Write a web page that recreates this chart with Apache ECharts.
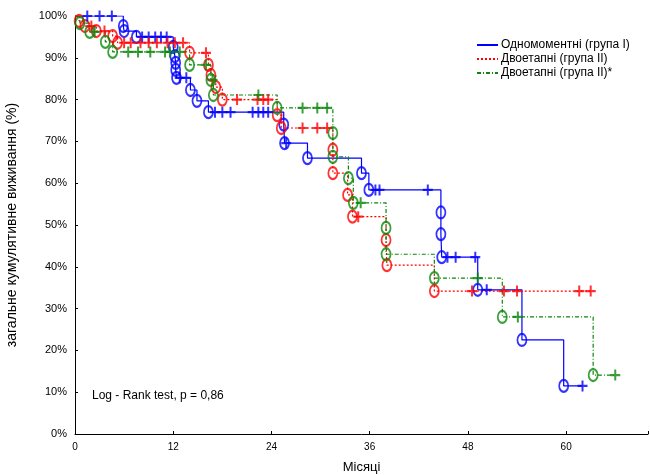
<!DOCTYPE html>
<html>
<head>
<meta charset="utf-8">
<script src="https://cdn.jsdelivr.net/npm/echarts@6/dist/echarts.min.js"></script>
<style>
    html, body { margin: 0; padding: 0; background: #fff; }
    #chart { width: 650px; height: 475px; }
</style>
</head>
<body>
<div id="chart"></div>
<script>
// month ticks and survival (%)
var monthTicks = [0, 12, 24, 36, 48, 60];

var names = ['Одномоментні (група І)', 'Двоетапні (група ІІ)', 'Двоетапні (група ІІ)*'];

// events (circles): [month, survival %]
var blueEvents = [[5.9, 97.6], [6.0, 96.4], [7.5, 95.0], [12.0, 92.6], [12.2, 90.4], [12.3, 88.8], [12.3, 87.1], [12.4, 85.2],
    [14.1, 82.3], [14.9, 79.7], [16.3, 77.0], [25.5, 74.0], [25.6, 69.6], [28.4, 66.0], [35.0, 62.4], [35.9, 58.4],
    [44.7, 53.0], [44.7, 47.8], [44.8, 42.3], [49.2, 34.5], [54.6, 22.5], [59.7, 11.5]];
// censored (plus signs)
var blueCensored = [[1.5, 100], [3.0, 100], [4.5, 100], [8.2, 95], [9.0, 95], [9.8, 95], [10.5, 95], [11.2, 95],
    [12.8, 85.2], [13.6, 85.2], [17.1, 77], [18.0, 77], [19.0, 77], [21.7, 77], [22.4, 77], [23.0, 77], [23.6, 77],
    [25.8, 69.6], [36.7, 58.4], [37.2, 58.4], [43.1, 58.4], [45.5, 42.3], [46.5, 42.3], [48.9, 42.3], [50.3, 34.5], [62.0, 11.5]];

var redEvents = [[0.5, 98.8], [1.2, 97.6], [2.6, 96.4], [4.6, 95.2], [5.2, 93.6], [14.0, 91.2], [16.3, 88.3], [16.6, 85.9],
    [17.2, 83.0], [18.0, 80.0], [24.7, 76.3], [25.2, 73.2], [31.5, 68.0], [31.5, 62.4], [33.3, 57.2], [33.9, 52.0],
    [38.0, 46.4], [38.1, 40.4], [43.9, 34.2]];
var redCensored = [[2.0, 97.6], [3.6, 96.4], [6.0, 93.6], [6.8, 93.6], [8.0, 93.6], [9.0, 93.6], [10.0, 93.6], [11.3, 93.6],
    [12.2, 93.6], [13.2, 93.6], [16.0, 91.2], [19.8, 80], [22.3, 80], [23.0, 80], [23.6, 80], [27.8, 73.2], [29.6, 73.2],
    [30.8, 73.2], [34.6, 52.0], [48.5, 34.2], [52.4, 34.2], [54.0, 34.2], [61.6, 34.2], [63.0, 34.2]];

var greenEvents = [[0.6, 98.3], [1.8, 96.2], [3.7, 93.8], [4.6, 91.4], [14.0, 88.3], [16.6, 84.7], [16.9, 81.1], [24.7, 78.0],
    [31.5, 72.0], [31.5, 66.3], [33.4, 61.2], [34.0, 55.3], [38.0, 49.3], [38.0, 43.0], [43.9, 37.3], [52.2, 28.0], [63.3, 14.1]];
var greenCensored = [[2.4, 96.2], [6.5, 91.4], [7.7, 91.4], [9.2, 91.4], [11.0, 91.4], [11.6, 91.4], [12.8, 91.4],
    [16.0, 88.3], [16.8, 84.7], [22.4, 81.1], [27.8, 78.0], [29.6, 78.0], [30.8, 78.0], [34.9, 55.3], [49.2, 37.3],
    [54.1, 28.0], [66.0, 14.1]];

var colors = ['#0000ff', '#ff0000', '#0a870a'];
var font = 'Liberation Sans, Arial, sans-serif';
var plusPath = 'path://M4,0H6V4H10V6H6V10H4V6H0V4H4Z';

function curve(events, censored) {
    var last = censored[censored.length - 1];
    var lastT = Math.max(last[0], events[events.length - 1][0]);
    return [[0, 100]].concat(events, [[lastT, events[events.length - 1][1]]]);
}

function lineSeries(name, events, censored, color, dash) {
    return {
        name: name,
        type: 'line',
        step: 'end',
        symbol: 'none',
        data: curve(events, censored),
        lineStyle: { color: color, width: 1.2, type: dash },
        itemStyle: { color: color },
        z: 2
    };
}

function circleSeries(events, color) {
    return {
        name: 'ev-' + color,
        type: 'scatter',
        symbol: 'circle',
        symbolSize: [9, 12],
        data: events,
        itemStyle: { color: 'transparent', borderColor: color, borderWidth: 2 },
        silent: true,
        z: 3
    };
}

function plusSeries(censored, color) {
    return {
        name: 'cens-' + color,
        type: 'scatter',
        symbol: plusPath,
        symbolSize: [10, 11],
        data: censored,
        itemStyle: { color: color },
        silent: true,
        z: 3
    };
}

var chart = echarts.init(document.getElementById('chart'));

var option = {
    backgroundColor: '#fff',
    animation: false,
    textStyle: { fontFamily: font },

    grid: { left: 75, right: 2, top: 16, bottom: 41, outerBoundsMode: 'none', containLabel: false },

    legend: {
        data: names,
        orient: 'vertical',
        left: 471,
        top: 34,
        itemWidth: 21,
        itemHeight: 10,
        itemGap: 2,
        itemStyle: { color: 'transparent', borderColor: 'transparent', borderWidth: 0 },
        textStyle: { fontSize: 12, color: '#000', fontFamily: font, padding: [0, 0, 0, -2] }
    },

    xAxis: {
        type: 'value',
        min: 0,
        max: 70,
        interval: 12,
        name: 'Місяці',
        nameLocation: 'middle',
        nameGap: 27,
        nameTextStyle: { fontSize: 13, color: '#000' },
        axisLine: { lineStyle: { color: '#000', width: 1 } },
        axisTick: { inside: true, length: 3, lineStyle: { color: '#000' } },
        axisLabel: {
            fontSize: 10, color: '#000', margin: 8,
            formatter: function (v) { return monthTicks.indexOf(v) >= 0 ? v : ''; }
        },
        splitLine: { show: false }
    },

    yAxis: {
        type: 'value',
        min: 0,
        max: 100,
        interval: 10,
        name: 'загальне кумулятивне виживання (%)',
        nameLocation: 'middle',
        nameGap: 56,
        nameTextStyle: { fontSize: 14, color: '#000' },
        axisLine: { show: true, lineStyle: { color: '#000', width: 1 } },
        axisTick: { show: true, inside: true, length: 3, lineStyle: { color: '#000' } },
        axisLabel: { fontSize: 11, color: '#000', margin: 8, formatter: '{value}%' },
        splitLine: { show: false }
    },

    graphic: [{
        type: 'text',
        left: 92,
        top: 390,
        style: { text: 'Log - Rank test, p = 0,86', font: '12px ' + font, fill: '#000' }
    }],

    series: [
        lineSeries(names[0], blueEvents, blueCensored, colors[0], 'solid'),
        lineSeries(names[1], redEvents, redCensored, colors[1], [2, 2]),
        lineSeries(names[2], greenEvents, greenCensored, colors[2], [4, 2, 1, 2]),
        circleSeries(blueEvents, colors[0]),
        circleSeries(redEvents, colors[1]),
        circleSeries(greenEvents, colors[2]),
        plusSeries(blueCensored, colors[0]),
        plusSeries(redCensored, colors[1]),
        plusSeries(greenCensored, colors[2])
    ]
};

chart.setOption(option);
</script>
</body>
</html>
